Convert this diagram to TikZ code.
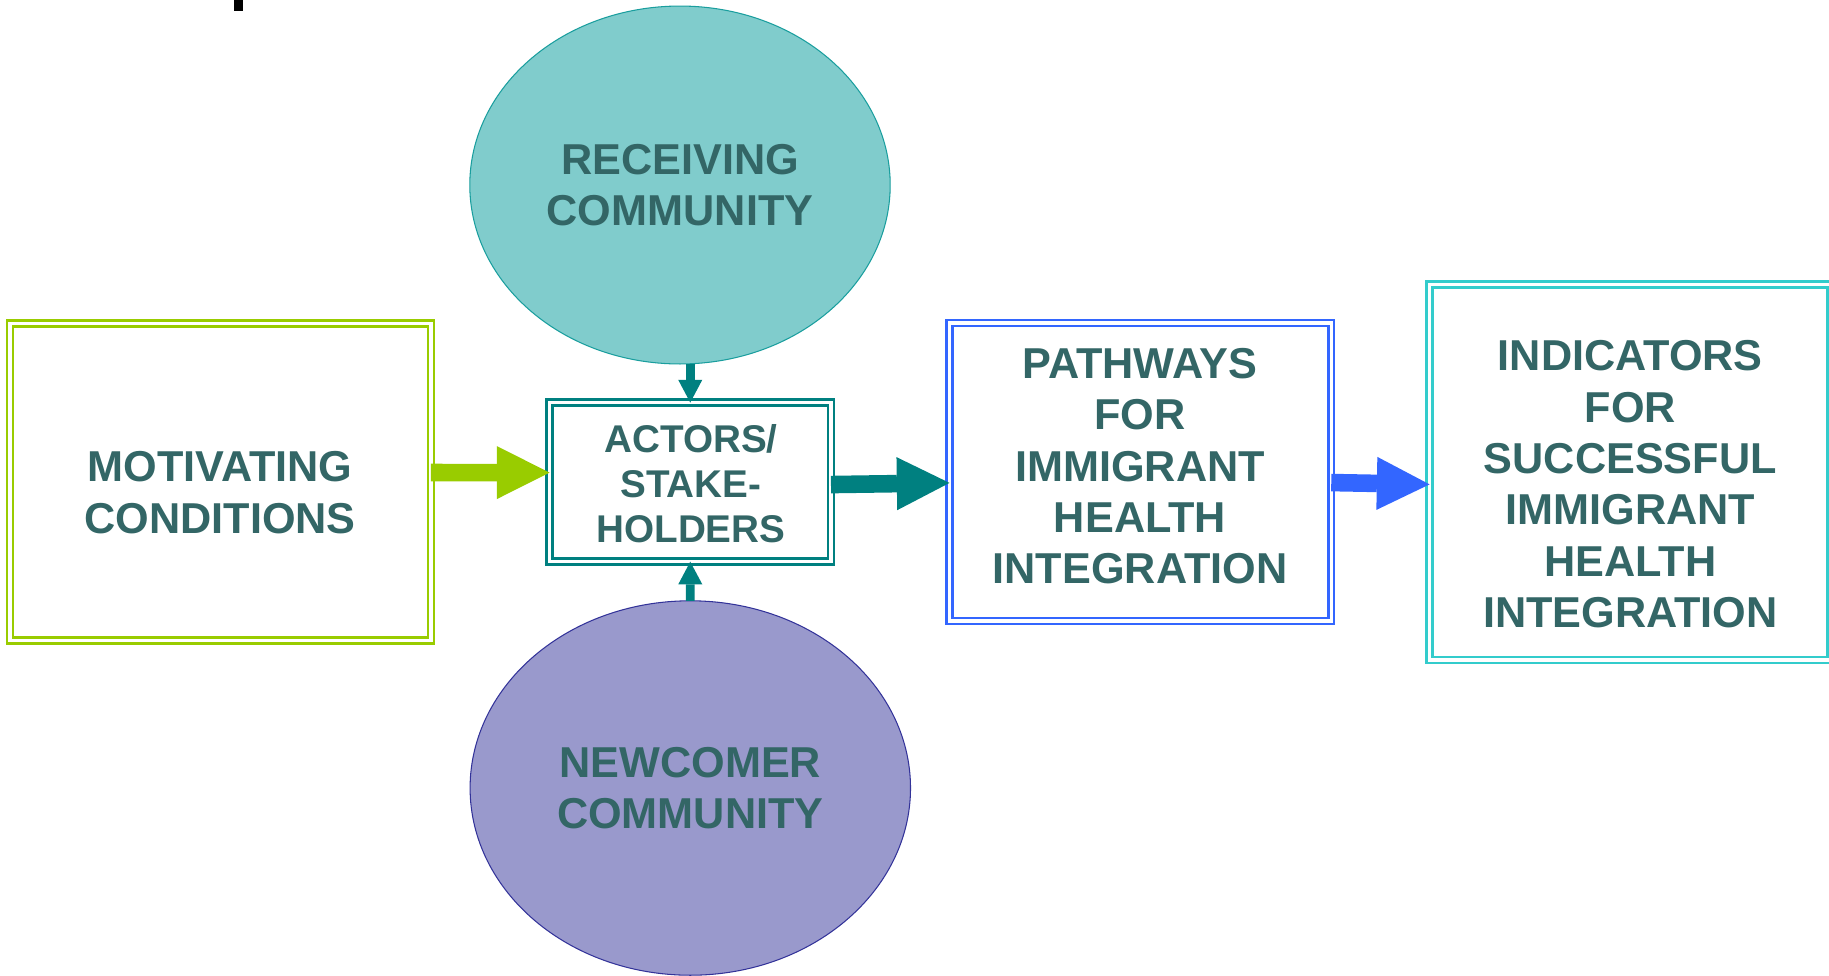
\documentclass[tikz,border=0pt]{standalone}
\usepackage{fontspec}
\setmainfont{Liberation Sans}
\usetikzlibrary{arrows.meta,shapes}
\definecolor{slate}{HTML}{336666}
\definecolor{lime}{HTML}{99CC00}
\definecolor{deepteal}{HTML}{008080}
\definecolor{brightblue}{HTML}{3366FF}
\definecolor{aqua}{HTML}{33CCCC}
\definecolor{mint}{HTML}{80CCCC}
\definecolor{mintline}{HTML}{1A9E9E}
\definecolor{lavender}{HTML}{9999CC}
\definecolor{indigoline}{HTML}{333399}
\newcommand{\labfont}{\bfseries\fontsize{24.6}{29.2}\selectfont}
\newcommand{\actfont}{\bfseries\fontsize{22}{25.6}\selectfont}
\tikzstyle{frame}=[rectangle,double=white,double distance=1.8pt,line width=1.5pt,inner sep=0pt,outer sep=0pt]
\tikzstyle{blob}=[ellipse,line width=0.6pt,inner sep=0pt,outer sep=0pt,text=slate,align=center,font=\labfont]
\tikzstyle{caption}=[text=slate,align=center,font=\labfont]
\tikzstyle{fat} = [draw,line width=10pt,-{Triangle[length=30pt,width=30.2pt,line width=0pt]}]
\tikzstyle{slim} = [draw,line width=5pt,-{Triangle[length=12.9pt,width=13.7pt,line width=0pt]}]

\begin{document}
\begin{tikzpicture}[x=0.02cm,y=-0.02cm]
    \useasboundingbox (0,0) rectangle (1829,975);
    \fill[black] (234.3,0) rectangle (242.7,11);

    \node[blob,draw=mintline,fill=mint,minimum width=8.41cm,minimum height=7.16cm] (recv) at (680,185) {RECEIVING\\COMMUNITY};
    \node[blob,draw=indigoline,fill=lavender,minimum width=8.81cm,minimum height=7.49cm] (newc) at (690.3,788) {NEWCOMER\\COMMUNITY};

    \node[frame,draw=lime,minimum width=8.42cm,minimum height=6.34cm] (motiv) at (220.5,482) {};
    \node[frame,draw=deepteal,minimum width=5.63cm,minimum height=3.184cm] (actors) at (690.25,482.1) {};
    \node[frame,draw=brightblue,minimum width=7.636cm,minimum height=5.96cm] (paths) at (1140.4,472) {};
    \node[frame,draw=aqua,minimum width=8.02cm,minimum height=7.51cm] (indic) at (1630,472.25) {};

    \node[caption] (motivtext) at (220,492.5) {MOTIVATING\\CONDITIONS};
    \node[caption,font=\actfont] (actorstext) at (690.9,484) {ACTORS/\\STAKE-\\HOLDERS};
    \node[caption] (pathstext) at (1140,466.3) {PATHWAYS\\FOR\\IMMIGRANT\\HEALTH\\INTEGRATION};
    \node[caption] (indictext) at (1630.3,484.2) {INDICATORS\\FOR\\SUCCESSFUL\\IMMIGRANT\\HEALTH\\INTEGRATION};

    \path[slim,deepteal] (actors.north |- recv.south) -- (actors.north);
    \path[slim,deepteal] (newc.north) -- (actors.south);
    \path[fat,lime] ([yshift=5.4pt]motiv.east) -- ([yshift=5.4pt]actors.west);
    \path[fat,deepteal] ([yshift=-1.4pt]actors.east) -- ([yshift=-6.2pt]paths.west);
    \path[fat,brightblue] ([yshift=-6pt]paths.east) -- ([yshift=-6.9pt]indic.west);
\end{tikzpicture}
\end{document}
